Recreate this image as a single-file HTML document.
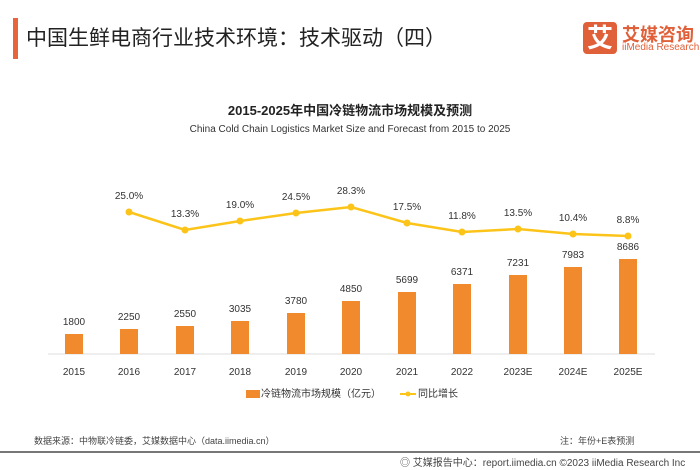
<!DOCTYPE html>
<html><head><meta charset="utf-8"><style>
body{margin:0;width:700px;height:470px;background:#fff;overflow:hidden;font-family:"Liberation Sans","Noto Sans CJK SC",sans-serif;position:relative}
.a{position:absolute;white-space:nowrap}
</style></head><body>
<div class="a" style="left:13px;top:18px;width:5px;height:41px;background:#e8643a"></div>
<div class="a" style="left:26px;top:22px;font-size:21px;color:#222">中国生鲜电商行业技术环境：技术驱动（四）</div>
<div class="a" style="left:583px;top:22px;width:34px;height:32px;background:#e0603a;border-radius:4px;color:#fff;font-size:26px;line-height:32px;text-align:center;font-weight:bold">艾</div>
<div class="a" style="left:622px;top:21px;font-size:18px;color:#e0603a;font-weight:bold">艾媒咨询</div>
<div class="a" style="left:622px;top:42px;font-size:10px;color:#e0603a">iiMedia Research</div>
<div class="a" style="left:0;width:700px;top:100px;text-align:center;font-size:13px;font-weight:bold;color:#222">2015-2025年中国冷链物流市场规模及预测</div>
<div class="a" style="left:0;width:700px;top:124px;text-align:center;font-size:10px;color:#333">China Cold Chain Logistics Market Size and Forecast from 2015 to 2025</div>
<svg class="a" style="left:0;top:0" width="700" height="470" font-family="Liberation Sans, Noto Sans CJK SC, sans-serif">
<line x1="48" y1="354" x2="655" y2="354" stroke="#ddd"/>
<polyline fill="none" stroke="#fcc419" stroke-width="2.5" points="129,212 185,230 240,221 296,213 351,207 407,223 462,232 518,229 573,234 628,236"/>
<g fill="#fcc419"><circle cx="129" cy="212" r="3.5"/><circle cx="185" cy="230" r="3.5"/><circle cx="240" cy="221" r="3.5"/><circle cx="296" cy="213" r="3.5"/><circle cx="351" cy="207" r="3.5"/><circle cx="407" cy="223" r="3.5"/><circle cx="462" cy="232" r="3.5"/><circle cx="518" cy="229" r="3.5"/><circle cx="573" cy="234" r="3.5"/><circle cx="628" cy="236" r="3.5"/></g>
<g font-size="10" fill="#333" text-anchor="middle">
<text x="129" y="199">25.0%</text><text x="185" y="217">13.3%</text><text x="240" y="208">19.0%</text><text x="296" y="200">24.5%</text><text x="351" y="194">28.3%</text><text x="407" y="210">17.5%</text><text x="462" y="219">11.8%</text><text x="518" y="216">13.5%</text><text x="573" y="221">10.4%</text><text x="628" y="223">8.8%</text>
</g>
<g fill="#f08a2c">
<rect x="65" y="334" width="18" height="20"/><rect x="120" y="329" width="18" height="25"/><rect x="176" y="326" width="18" height="28"/><rect x="231" y="321" width="18" height="33"/><rect x="287" y="313" width="18" height="41"/><rect x="342" y="301" width="18" height="53"/><rect x="398" y="292" width="18" height="62"/><rect x="453" y="284" width="18" height="70"/><rect x="509" y="275" width="18" height="79"/><rect x="564" y="267" width="18" height="87"/><rect x="619" y="259" width="18" height="95"/>
</g>
<g font-size="10" fill="#333" text-anchor="middle">
<text x="74" y="325">1800</text><text x="129" y="320">2250</text><text x="185" y="317">2550</text><text x="240" y="312">3035</text><text x="296" y="304">3780</text><text x="351" y="292">4850</text><text x="407" y="283">5699</text><text x="462" y="275">6371</text><text x="518" y="266">7231</text><text x="573" y="258">7983</text><text x="628" y="250">8686</text>
<text x="74" y="375">2015</text><text x="129" y="375">2016</text><text x="185" y="375">2017</text><text x="240" y="375">2018</text><text x="296" y="375">2019</text><text x="351" y="375">2020</text><text x="407" y="375">2021</text><text x="462" y="375">2022</text><text x="518" y="375">2023E</text><text x="573" y="375">2024E</text><text x="628" y="375">2025E</text>
</g>
<rect x="246" y="390" width="14" height="8" fill="#f08a2c"/>
<text x="261" y="397" font-size="10" fill="#333">冷链物流市场规模（亿元）</text>
<line x1="400" y1="394" x2="416" y2="394" stroke="#fcc419" stroke-width="2"/><circle cx="408" cy="394" r="2.5" fill="#fcc419"/>
<text x="418" y="397" font-size="10" fill="#333">同比增长</text>
<text x="34" y="444" font-size="9" fill="#444">数据来源：中物联冷链委，艾媒数据中心（data.iimedia.cn）</text>
<text x="560" y="444" font-size="9" fill="#444">注：年份+E表预测</text>
<line x1="0" y1="452" x2="700" y2="452" stroke="#777" stroke-width="2"/>
<text x="400" y="466" font-size="10" fill="#444">◎ 艾媒报告中心：report.iimedia.cn  ©2023  iiMedia Research Inc</text>
</svg>
</body></html>
